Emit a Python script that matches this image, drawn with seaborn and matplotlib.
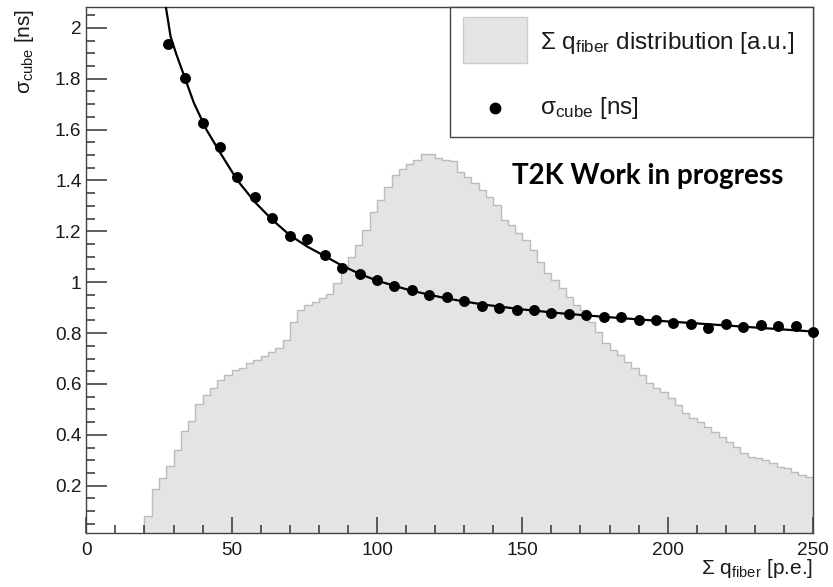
import numpy as np
import pandas as pd
import matplotlib
matplotlib.use("Agg")
import matplotlib.pyplot as plt
import seaborn as sns
from matplotlib.patches import Rectangle
from matplotlib.lines import Line2D
from matplotlib.ticker import MultipleLocator, FuncFormatter

# histogram of summed fiber charge (bin width 2.5 p.e., first filled bin at 20)
hist_lo = np.arange(20, 250, 2.5)
hist_h = [0.082, 0.187, 0.229, 0.279, 0.340, 0.415, 0.454, 0.521, 0.557, 0.583,
          0.616, 0.635, 0.655, 0.664, 0.684, 0.694, 0.710, 0.727, 0.740, 0.773,
          0.845, 0.891, 0.910, 0.923, 0.937, 0.954, 0.996, 1.061, 1.098, 1.146,
          1.205, 1.277, 1.323, 1.376, 1.421, 1.445, 1.465, 1.482, 1.504, 1.504,
          1.490, 1.482, 1.478, 1.434, 1.412, 1.391, 1.362, 1.336, 1.304, 1.245,
          1.225, 1.195, 1.166, 1.127, 1.081, 1.035, 1.009, 0.976, 0.943, 0.910,
          0.891, 0.845, 0.805, 0.760, 0.734, 0.714, 0.687, 0.661, 0.635, 0.603,
          0.583, 0.570, 0.544, 0.517, 0.485, 0.465, 0.452, 0.432, 0.412, 0.393,
          0.373, 0.353, 0.327, 0.314, 0.308, 0.301, 0.288, 0.275, 0.268, 0.255,
          0.242, 0.236]

# sigma_cube points
pt_x = [28, 34, 40, 46, 52, 58, 64, 70, 76, 82, 88, 94, 100, 106, 112, 118, 124,
        130, 136, 142, 148, 154, 160, 166, 172, 178, 184, 190, 196, 202, 208, 214,
        220, 226, 232, 238, 244, 250]
pt_y = [1.935, 1.804, 1.626, 1.531, 1.415, 1.334, 1.251, 1.180, 1.171, 1.108,
        1.055, 1.032, 1.008, 0.985, 0.969, 0.950, 0.940, 0.927, 0.906, 0.899,
        0.891, 0.889, 0.880, 0.874, 0.871, 0.864, 0.862, 0.850, 0.851, 0.838,
        0.836, 0.821, 0.837, 0.825, 0.830, 0.826, 0.829, 0.805]

# fitted curve
fit_x = [27.4, 29, 31, 34, 37, 41.3, 46, 52, 58, 64, 70, 76, 82, 88, 94, 100,
         112, 124, 136, 150, 163, 178, 192, 205, 220, 235, 250]
fit_y = [2.08, 1.965, 1.895, 1.80, 1.705, 1.60, 1.51, 1.40, 1.315, 1.245, 1.185,
         1.14, 1.103, 1.065, 1.033, 1.006, 0.966, 0.936, 0.913, 0.893, 0.878,
         0.864, 0.852, 0.842, 0.830, 0.818, 0.806]

hist_df = pd.DataFrame({"q": hist_lo + 1.25, "w": hist_h})

sns.set_style("white")
plt.rcParams['font.family'] = ['Liberation Sans', 'DejaVu Sans']
plt.rcParams['mathtext.fontset'] = 'custom'
plt.rcParams['mathtext.rm'] = 'Liberation Sans'
plt.rcParams['mathtext.default'] = 'regular'

W, H = 833, 587
def fx(px):
    return px / W
def fy(py):
    return 1 - py / H

XLIM = (0, 250)
YLIM = (0.0153, 2.0806)
rect = [fx(86.3), fy(532.7), fx(813) - fx(86.3), fy(7.3) - fy(532.7)]

fig = plt.figure(figsize=(W / 100, H / 100), dpi=100)

# histogram on its own axes underneath, so the frame ticks stay on top
ax_h = fig.add_axes(rect, zorder=0)
sns.histplot(data=hist_df, x="q", weights="w", binwidth=2.5, binrange=(20, 250),
             element="step", fill=True, color="#e4e4e4", alpha=1,
             edgecolor="#bcbcbc", linewidth=1.0, ax=ax_h)
ax_h.set_xlim(*XLIM)
ax_h.set_ylim(*YLIM)
ax_h.axis("off")

ax = fig.add_axes(rect, zorder=1)
ax.patch.set_alpha(0)
sns.lineplot(x=fit_x, y=fit_y, color="black", linewidth=1.6, sort=False,
             estimator=None, ax=ax, zorder=3)
sns.scatterplot(x=pt_x, y=pt_y, color="black", s=62, linewidth=0, ax=ax,
                zorder=4, clip_on=False)

ax.set_xlim(*XLIM)
ax.set_ylim(*YLIM)
ax.set_xlabel("")
ax.set_ylabel("")

ax.xaxis.set_major_locator(MultipleLocator(50))
ax.xaxis.set_minor_locator(MultipleLocator(10))
ax.yaxis.set_major_locator(MultipleLocator(0.2))
ax.yaxis.set_minor_locator(MultipleLocator(0.05))
ax.yaxis.set_major_formatter(FuncFormatter(lambda v, p: f"{v:g}" if v > 0.1 else ""))

ax.tick_params(axis='both', which='both', direction='in', color='#333333',
               width=1.1, labelsize=13.7, labelcolor='#1a1a1a',
               bottom=True, left=True, top=False, right=False)
ax.tick_params(axis='y', which='major', length=15, pad=3.5)
ax.tick_params(axis='y', which='minor', length=6.7)
ax.tick_params(axis='x', which='major', length=11.5, pad=6.5)
ax.tick_params(axis='x', which='minor', length=5.5)
for s in ax.spines.values():
    s.set_color('#444444')
    s.set_linewidth(1.0)

# axis titles, ROOT style at the axis ends
fig.text(fx(25), fy(9), "σ$_{\\mathregular{cube}}$ [ns]", rotation=90,
         ha='center', va='top', fontsize=15, color='#1a1a1a')
fig.text(fx(813), fy(574), "Σ q$_{\\mathregular{fiber}}$ [p.e.]", ha='right',
         va='baseline', fontsize=15, color='#1a1a1a')

# legend box
fig.add_artist(Rectangle((fx(450), fy(137)), fx(813) - fx(450), fy(7.3) - fy(137),
                         transform=fig.transFigure, facecolor='white',
                         edgecolor='#444444', linewidth=1.0, zorder=5))
fig.add_artist(Rectangle((fx(463), fy(63)), fx(527) - fx(463), fy(17) - fy(63),
                         transform=fig.transFigure, facecolor='#e4e4e4',
                         edgecolor='#cccccc', linewidth=1.0, zorder=6))
fig.add_artist(Line2D([fx(495)], [fy(108)], marker='o', markersize=7.5,
                      color='black', transform=fig.transFigure, zorder=6))
fig.text(fx(540), fy(49), "Σ q$_{\\mathregular{fiber}}$ distribution [a.u.]",
         va='baseline', fontsize=17.5, color='#1a1a1a', zorder=7)
fig.text(fx(540), fy(114), "σ$_{\\mathregular{cube}}$ [ns]",
         va='baseline', fontsize=17.5, color='#1a1a1a', zorder=7)

fig.text(fx(512), fy(176), "T2K Work in progress", family=['Lato', 'DejaVu Sans'],
         fontweight='bold', fontsize=20, va='center', color='black')

fig.savefig("out.png", dpi=100)
